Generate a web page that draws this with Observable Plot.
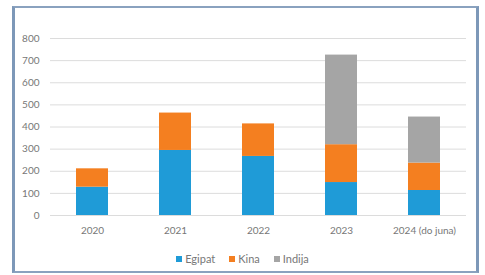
<!DOCTYPE html>
<html>
<head>
<meta charset="utf-8">
<script src="https://cdn.jsdelivr.net/npm/d3@7"></script>
<script src="https://cdn.jsdelivr.net/npm/@observablehq/plot@0.6"></script>
<style>
  html, body { margin: 0; padding: 0; background: #fff; width: 485px; height: 275px; overflow: hidden; }
  #frame { position: absolute; left: 12px; top: 6px; width: 467px; height: 267px; box-sizing: border-box;
    border-left: 3px solid #7d98b8; border-right: 3px solid #7d98b8; border-top: 2px solid #8aa2bf; border-bottom: 2px solid #8aa2bf; }
  #chart { position: absolute; left: 0; top: 0; }
  #legend { position: absolute; left: 0; top: 252px; width: 485px; display: flex; justify-content: center; gap: 14px;
    font-family: Lato, "Open Sans", sans-serif; font-size: 11px; color: #777; }
  #legend span.sw { display: inline-block; width: 6px; height: 6px; margin-right: 3px; vertical-align: 1px; }
</style>
</head>
<body>
<div id="frame"></div>
<div id="chart"></div>
<div id="legend"></div>
<script>
const years = ["2020", "2021", "2022", "2023", "2024 (do juna)"];
const series = ["Egipat", "Kina", "Indija"];
const colors = ["#1f9bd7", "#f47f20", "#a5a5a5"];
const egipat = [128, 294, 267, 149, 113];
const kina = [83, 169, 147, 171, 124];
const indija = [0, 0, 0, 405, 208];
const yTicks = [0, 100, 200, 300, 400, 500, 600, 700, 800];

const values = [egipat, kina, indija];
const data = [];
series.forEach((s, si) => years.forEach((y, yi) => data.push({year: y, series: s, value: values[si][yi]})));

const chart = Plot.plot({
  width: 485,
  height: 245,
  marginLeft: 50,
  marginRight: 19,
  marginTop: 38,
  marginBottom: 30,
  style: {fontFamily: "Lato, 'Open Sans', sans-serif", fontSize: "10px", color: "#777", background: "transparent"},
  x: {domain: years, paddingInner: 0.61, paddingOuter: 0.305, label: null, tickSize: 0, tickPadding: 11},
  y: {domain: [0, 800], ticks: yTicks, label: null, tickSize: 0, tickPadding: 11},
  color: {domain: series, range: colors},
  marks: [
    Plot.ruleY(yTicks, {stroke: "#dcdcdc", strokeWidth: 1}),
    Plot.barY(data, {x: "year", y: "value", fill: "series", order: series}),
    Plot.axisX({tickSize: 0, tickPadding: 11, fill: "#777"}),
    Plot.axisY({ticks: yTicks, tickSize: 0, tickPadding: 11, fill: "#777"})
  ]
});
document.getElementById("chart").appendChild(chart);

const legend = document.getElementById("legend");
series.forEach((s, i) => {
  const item = document.createElement("div");
  item.innerHTML = `<span class="sw" style="background:${colors[i]}"></span>${s}`;
  legend.appendChild(item);
});
</script>
</body>
</html>
